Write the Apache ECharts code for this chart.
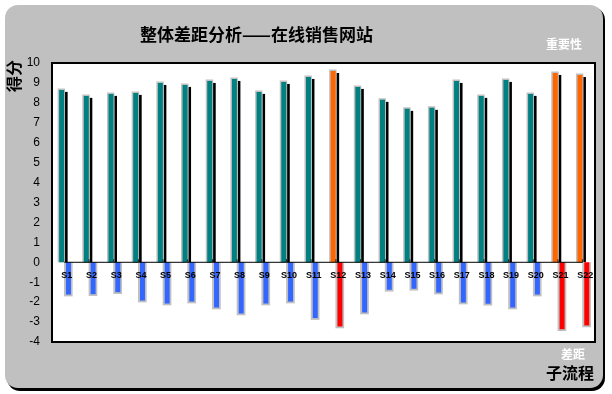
<!DOCTYPE html>
<html>
<head>
<meta charset="utf-8">
<script src="https://cdn.jsdelivr.net/npm/echarts@6/dist/echarts.min.js"></script>
<style>
html,body{margin:0;padding:0;background:#fff;}
#c{width:612px;height:394px;}
</style>
</head>
<body>
<div id="c"></div>
<script>
const categories = ['S1','S2','S3','S4','S5','S6','S7','S8','S9','S10','S11','S12','S13','S14','S15','S16','S17','S18','S19','S20','S21','S22'];
const importance = [8.65,8.35,8.45,8.5,9.0,8.9,9.1,9.2,8.55,9.05,9.3,9.6,8.8,8.15,7.7,7.75,9.1,8.35,9.15,8.45,9.5,9.4];
const gap = [-1.62,-1.6,-1.5,-1.92,-2.07,-1.97,-2.27,-2.57,-2.07,-1.97,-2.8,-3.22,-2.52,-1.38,-1.33,-1.52,-2.02,-2.08,-2.27,-1.62,-3.36,-3.17];
const highlighted = ['S12','S21','S22'];
const yTicks = [-4,-3,-2,-1,0,1,2,3,4,5,6,7,8,9,10];
const titleText = '整体差距分析——在线销售网站';
const seriesNames = ['重要性','差距'];

const chart = echarts.init(document.getElementById('c'), null, {renderer:'canvas'});
const cjk = '"Noto Sans CJK SC", "Noto Sans", sans-serif';
const latin = '"Liberation Sans", Arial, sans-serif';

const impData = importance.map((v,i)=>[i, v]);
const gapData = gap.map((v,i)=>[i, v]);

function renderImportance(params, api){
  const i = api.value(0), v = api.value(1);
  const top = api.coord([i, v]);
  const base = api.coord([i, 0]);
  const c = top[0], ty = top[1], by = base[1];
  const hi = highlighted.includes(categories[i]);
  return {type:'group', children:[
    {type:'rect', shape:{x:c+0.5, y:ty+2, width:2.8, height:by-ty-2}, style:{fill:'#000'}},
    {type:'rect', shape:{x:c-6.7, y:ty-1.5, width:7.4, height:by-ty+1.5}, style:{fill:'#c0c0c0'}},
    {type:'rect', shape:{x:c-5.2, y:ty, width:5, height:by-ty}, style:{fill: hi ? '#ff6600' : '#008080'}}
  ]};
}
function renderGap(params, api){
  const i = api.value(0), v = api.value(1);
  const bot = api.coord([i, v]);
  const base = api.coord([i, 0]);
  const c = bot[0], ly = bot[1], zy = base[1];
  const hi = highlighted.includes(categories[i]);
  return {type:'group', children:[
    {type:'rect', shape:{x:c-0.4, y:zy, width:8.7, height:ly-zy+1.8}, style:{fill:'#c0c0c0'}},
    {type:'rect', shape:{x:c+1.6, y:zy, width:5, height:ly-zy}, style:{fill: hi ? '#ff0000' : '#3366ff'}},
    {type:'text', x:c+2.5, y:zy+13, style:{text:categories[i], font:'bold 9px '+latin, fill:'#000', align:'center', verticalAlign:'middle'}}
  ]};
}

chart.setOption({
  animation:false,
  backgroundColor:'#ffffff',
  graphic:[
    {type:'rect', z:-10, shape:{x:7,y:7,width:598,height:384,r:13}, style:{fill:'#000'}},
    {type:'rect', z:-9, shape:{x:5,y:5,width:598,height:383,r:13}, style:{fill:'#c0c0c0'}},
    {type:'text', x:140, y:26, style:{text:titleText, font:'bold 17px '+cjk, fill:'#000'}},
    {type:'text', x:546, y:38, style:{text:seriesNames[0], font:'bold 12px '+cjk, fill:'#fff'}},
    {type:'text', x:561, y:348, style:{text:seriesNames[1], font:'bold 12px '+cjk, fill:'#fff'}},
    {type:'text', x:546, y:365, style:{text:'子流程', font:'bold 16px '+cjk, fill:'#000'}},
    {type:'text', x:6, y:92, rotation:Math.PI/2, style:{text:'得分', font:'bold 16px '+cjk, fill:'#000'}}
  ],
  grid:{left:52, right:17, top:63, bottom:52, show:true, backgroundColor:'#fff', borderColor:'#000', borderWidth:2},
  xAxis:{
    type:'category', data:categories,
    axisLine:{show:false},
    axisTick:{show:false},
    axisLabel:{show:false}
  },
  yAxis:{
    type:'value', min:yTicks[0], max:yTicks[yTicks.length-1], interval:1,
    axisLine:{show:false}, axisTick:{show:false}, splitLine:{show:false},
    axisLabel:{color:'#000', fontSize:12, fontFamily:latin, margin:12}
  },
  series:[
    {name:seriesNames[0], type:'custom', data:impData, renderItem:renderImportance, clip:false, z:2},
    {name:seriesNames[1], type:'custom', data:gapData, renderItem:renderGap, clip:false, z:2},
    {type:'line', data:categories.map(()=>0), symbol:'none', lineStyle:{color:'#000', width:1}, z:5, silent:true},
    {type:'scatter', data:categories.map((c,i)=>[i+0.5,0]), symbol:'rect', symbolSize:[1,3], symbolOffset:[0,-1.5], itemStyle:{color:'#000'}, z:5, silent:true}
  ]
});
</script>
</body>
</html>
